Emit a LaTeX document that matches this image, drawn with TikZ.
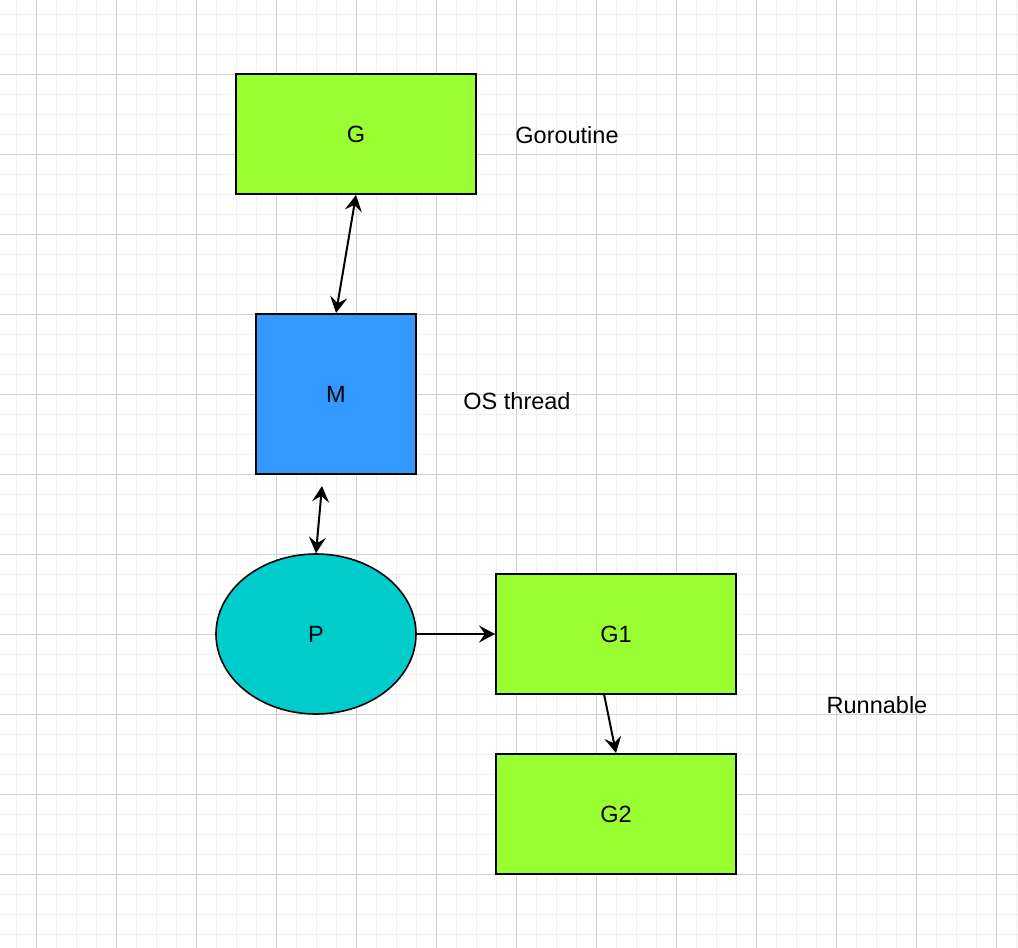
\documentclass[tikz,border=0pt]{standalone}
\usepackage{fontspec}
\setmainfont{Liberation Sans}
\usetikzlibrary{arrows.meta,shapes.geometric}
\definecolor{gorogreen}{HTML}{99FF33}
\definecolor{threadblue}{HTML}{3399FF}
\definecolor{proccyan}{HTML}{00CCCC}
\definecolor{minorgrid}{HTML}{F0F0F0}
\definecolor{majorgrid}{HTML}{D0D0D0}

\begin{document}
\begin{tikzpicture}[x=0.5pt,y=-0.5pt]
\tikzstyle{every node}+=[inner sep=0pt,font=\fontsize{11.75}{14}\selectfont]
\tikzstyle{gbox}=[draw=black,line width=1pt,fill=gorogreen,minimum width=120pt,minimum height=60pt]
\tikzstyle{mbox}=[draw=black,line width=1pt,fill=threadblue,minimum width=80pt,minimum height=80pt]
\tikzstyle{pnode}=[ellipse,draw=black,line width=0.8pt,fill=proccyan,minimum width=100pt,minimum height=80pt]
\tikzstyle{link}=[line width=1pt,-{Stealth[length=8pt,width=8.5pt,inset=3pt]}]
\tikzstyle{biglink}=[line width=1pt,{Stealth[length=8pt,width=8.5pt,inset=3pt]}-{Stealth[length=8pt,width=8.5pt,inset=3pt]}]
\useasboundingbox (0,0) rectangle (1018,948);
\fill[white] (0,0) rectangle (1018,948);
% grid
\foreach \x in {16,36,...,1016} \draw[minorgrid,line width=0.5pt] (\x,0) -- (\x,948);
\foreach \y in {14,34,...,934} \draw[minorgrid,line width=0.5pt] (0,\y) -- (1018,\y);
\foreach \x in {36,116,...,996} \draw[majorgrid,line width=0.5pt] (\x,0) -- (\x,948);
\foreach \y in {74,154,...,874} \draw[majorgrid,line width=0.5pt] (0,\y) -- (1018,\y);
% nodes
\node[gbox] (G) at (356,134) {G};
\node[mbox] (M) at (336,394) {M};
\node[pnode] (P) at (316,634) {P};
\node[gbox] (G1) at (616,634) {G1};
\node[gbox] (G2) at (616,814) {G2};
\node (goro) at (567,135) {Goroutine};
\node (thread) at (517,401) {OS thread};
\node (run) at (877,705) {Runnable};
\coordinate (mout) at (322,486);
\coordinate (g1out) at (604,694);
% links
\draw[biglink] (G.south) -- (M.north);
\draw[biglink] (mout) -- (P.north);
\draw[link] (P.east) -- (G1.west);
\draw[link] (g1out) -- (G2.north);
\end{tikzpicture}
\end{document}
